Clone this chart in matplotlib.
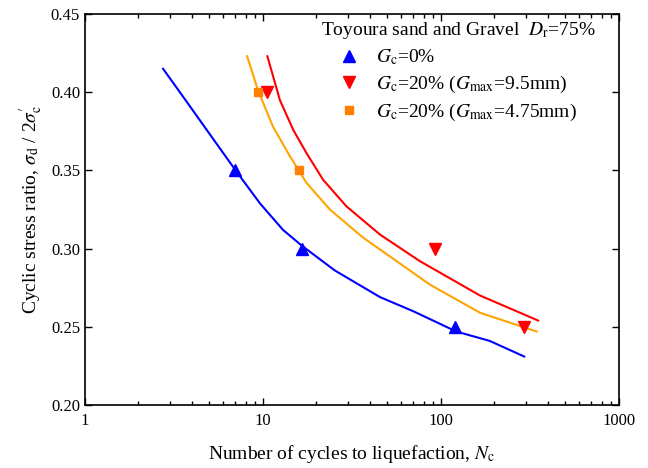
import numpy as np
import matplotlib
matplotlib.use("Agg")
from matplotlib import pyplot as plt

plt.rcParams['font.family'] = ['Liberation Serif', 'DejaVu Serif']
plt.rcParams['mathtext.fontset'] = 'stix'

# measured points
n_gc0 = [7.0, 16.5, 120]
csr_gc0 = [0.350, 0.300, 0.250]
n_gc20_95 = [10.5, 93, 295]
csr_gc20_95 = [0.400, 0.300, 0.250]
n_gc20_475 = [9.4, 16.0]
csr_gc20_475 = [0.400, 0.350]

# fitted curves
fit_n_gc0 = [2.75, 3.57, 4.83, 7.03, 9.62, 12.97, 16.5, 25.4, 45.5, 69.9, 122, 188, 294]
fit_csr_gc0 = [0.415, 0.397, 0.376, 0.350, 0.329, 0.312, 0.302, 0.286, 0.269, 0.260, 0.247, 0.241, 0.231]
fit_n_gc20_95 = [10.6, 12.46, 14.8, 17.6, 21.8, 29.5, 45.5, 76.2, 166, 352]
fit_csr_gc20_95 = [0.423, 0.395, 0.376, 0.361, 0.344, 0.327, 0.309, 0.292, 0.270, 0.254]
fit_n_gc20_475 = [8.16, 9.4, 11.4, 14.2, 17.6, 23.8, 36.6, 56.4, 86.7, 166, 345]
fit_csr_gc20_475 = [0.423, 0.401, 0.378, 0.359, 0.342, 0.325, 0.307, 0.292, 0.277, 0.259, 0.247]

fig = plt.figure(figsize=(6.48, 4.68), dpi=100)
ax = fig.add_axes([0.131, 0.1346, 0.824, 0.8354])

ax.plot(fit_n_gc0, fit_csr_gc0, color='#0000ff', lw=1.5)
ax.plot(fit_n_gc20_95, fit_csr_gc20_95, color='#ff0000', lw=1.5)
ax.plot(fit_n_gc20_475, fit_csr_gc20_475, color='#ffa500', lw=1.5)

h1, = ax.plot(n_gc0, csr_gc0, '^', color='#0000ff', ms=8, ls='none',
              label=r'$G_\mathrm{c}$=0%')
h2, = ax.plot(n_gc20_95, csr_gc20_95, 'v', color='#ff0000', ms=8, ls='none',
              label=r'$G_\mathrm{c}$=20% ($G_\mathrm{max}$=9.5mm)')
h3, = ax.plot(n_gc20_475, csr_gc20_475, 's', color='#ff8000', ms=6, ls='none',
              label=r'$G_\mathrm{c}$=20% ($G_\mathrm{max}$=4.75mm)')

ax.set_xscale('log')
ax.set_xlim(1, 1000)
ax.set_ylim(0.20, 0.45)
ax.set_yticks([0.20, 0.25, 0.30, 0.35, 0.40, 0.45])
ax.set_yticklabels(['0.20', '0.25', '0.30', '0.35', '0.40', '0.45'])
ax.set_xticks([1, 10, 100, 1000])
ax.set_xticklabels(['1', '10', '100', '1000'])
ax.tick_params(which='both', direction='in', top=True, right=True, labelsize=12)
ax.tick_params(which='major', length=5, width=1)
ax.tick_params(which='minor', length=3, width=1)
ax.tick_params(axis='x', pad=6)
for s in ax.spines.values():
    s.set_linewidth(1.2)

ax.set_xlabel(r'Number of cycles to liquefaction, $N_\mathrm{c}$', fontsize=14, labelpad=10)
ax.set_ylabel(r"Cyclic stress ratio, $\sigma_\mathrm{d}$ / 2$\sigma_\mathrm{c}^{\prime}$", fontsize=14, labelpad=4)

leg = ax.legend(handles=[h1, h2, h3], title=r'Toyoura sand and Gravel  $D_\mathrm{r}$=75%',
                loc='upper left', bbox_to_anchor=(0.4275, 1.005), frameon=False,
                fontsize=14, title_fontsize=14, handlelength=2.85, handletextpad=0.0,
                labelspacing=0.35, borderaxespad=0.0)
leg._legend_box.align = 'left'

fig.savefig('out.png', dpi=100)
